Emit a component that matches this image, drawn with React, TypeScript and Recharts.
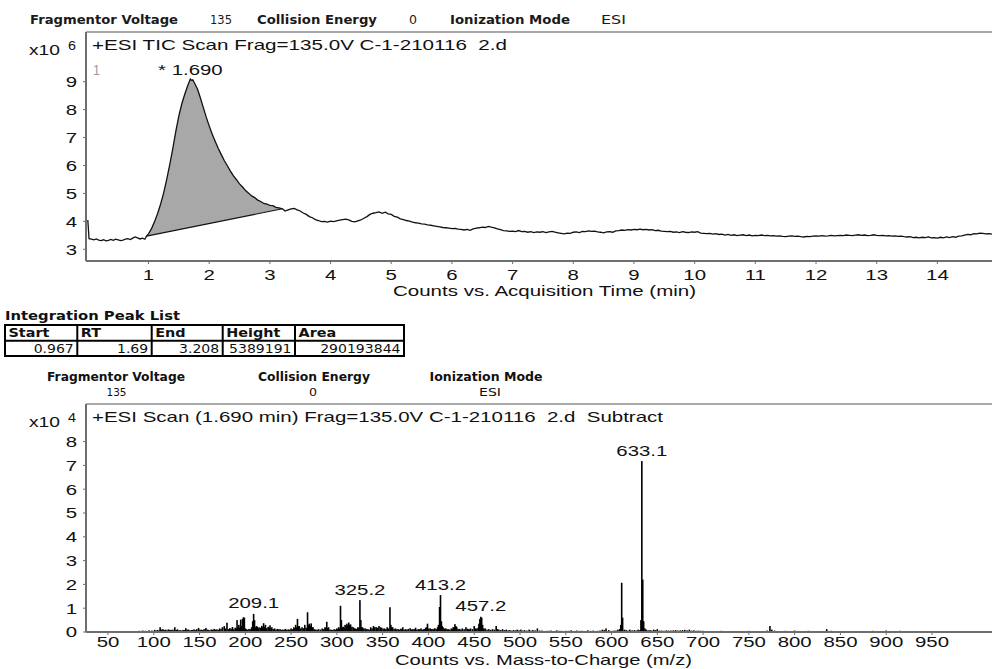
import React from 'react';
import { ComposedChart, Line, Area, Bar, Scatter, XAxis, YAxis, ReferenceLine } from 'recharts';

const ARIAL = '"Liberation Sans", Arial, sans-serif';
const VERD = '"DejaVu Sans", Verdana, sans-serif';
const SX = 1.36;
const INK = '#111';
const AXIS = '#6e6e6e';
const BORDER = '#8c8c8c';

// ---------- TIC chromatogram (counts x10^6 vs minutes) ----------
const ticTrace: [number, number][] = [
  [0, 4.05], [0.02, 3.38], [0.06, 3.36], [0.1, 3.34], [0.14, 3.37], [0.18, 3.33], [0.22, 3.31], [0.26, 3.34],
  [0.3, 3.3], [0.34, 3.32], [0.38, 3.35], [0.42, 3.32], [0.46, 3.36], [0.5, 3.34], [0.54, 3.31], [0.58, 3.33],
  [0.62, 3.36], [0.66, 3.38], [0.7, 3.35], [0.74, 3.4], [0.78, 3.44], [0.82, 3.41], [0.86, 3.37], [0.9, 3.4],
  [0.94, 3.36], [0.967, 3.47], [1.0, 3.55], [1.05, 3.74], [1.1, 3.99], [1.15, 4.28], [1.2, 4.62], [1.25, 5.02],
  [1.3, 5.5], [1.35, 6.03], [1.4, 6.6], [1.45, 7.22], [1.5, 7.78], [1.55, 8.22], [1.6, 8.57], [1.65, 8.88],
  [1.69, 9.1], [1.71, 9.05], [1.73, 9.07], [1.77, 8.9], [1.81, 8.72], [1.85, 8.45], [1.9, 8.1], [1.95, 7.74],
  [2.0, 7.42], [2.05, 7.12], [2.1, 6.86], [2.15, 6.61], [2.2, 6.39], [2.25, 6.17], [2.3, 5.99], [2.35, 5.8],
  [2.4, 5.63], [2.45, 5.49], [2.5, 5.34], [2.55, 5.23], [2.6, 5.1], [2.65, 5.01], [2.7, 4.91], [2.75, 4.85],
  [2.8, 4.76], [2.85, 4.71], [2.9, 4.64], [2.95, 4.62], [3.0, 4.57], [3.05, 4.56], [3.1, 4.5], [3.15, 4.48],
  [3.208, 4.45], [3.25, 4.37], [3.3, 4.41], [3.35, 4.45], [3.4, 4.46], [3.45, 4.41], [3.5, 4.37], [3.55, 4.3],
  [3.6, 4.25], [3.65, 4.17], [3.7, 4.13], [3.75, 4.06], [3.8, 4.03], [3.85, 3.99], [3.9, 4.0], [3.95, 3.97],
  [4.0, 4.01], [4.05, 3.99], [4.1, 4.02], [4.15, 4.04], [4.2, 4.06], [4.25, 4.08], [4.3, 4.05], [4.35, 4.0],
  [4.4, 3.98], [4.45, 4.02], [4.5, 4.05], [4.55, 4.11], [4.6, 4.17], [4.65, 4.25], [4.7, 4.29], [4.75, 4.31],
  [4.8, 4.34], [4.85, 4.29], [4.9, 4.33], [4.95, 4.27], [5.0, 4.25], [5.05, 4.18], [5.1, 4.15], [5.15, 4.09],
  [5.2, 4.06], [5.25, 4.03], [5.3, 4.01], [5.35, 3.97], [5.4, 3.95], [5.45, 3.94], [5.5, 3.91], [5.55, 3.9],
  [5.6, 3.87], [5.65, 3.86], [5.7, 3.84], [5.75, 3.82], [5.8, 3.8], [5.85, 3.78], [5.9, 3.77], [5.95, 3.76],
  [6.0, 3.74], [6.05, 3.75], [6.1, 3.72], [6.15, 3.71], [6.2, 3.69], [6.25, 3.71], [6.3, 3.68], [6.35, 3.73],
  [6.4, 3.76], [6.45, 3.77], [6.5, 3.79], [6.55, 3.78], [6.6, 3.82], [6.65, 3.79], [6.7, 3.77], [6.75, 3.73],
  [6.8, 3.7], [6.85, 3.67], [6.9, 3.66], [6.95, 3.64], [7.0, 3.65], [7.05, 3.63], [7.1, 3.67], [7.15, 3.63],
  [7.2, 3.64], [7.25, 3.61], [7.3, 3.63], [7.35, 3.6], [7.4, 3.62], [7.45, 3.61], [7.5, 3.63], [7.55, 3.6],
  [7.6, 3.62], [7.65, 3.64], [7.7, 3.61], [7.75, 3.59], [7.8, 3.57], [7.85, 3.55], [7.9, 3.58], [7.95, 3.57],
  [8.0, 3.61], [8.05, 3.62], [8.1, 3.6], [8.15, 3.64], [8.2, 3.63], [8.25, 3.66], [8.3, 3.64], [8.35, 3.65],
  [8.4, 3.62], [8.45, 3.61], [8.5, 3.59], [8.55, 3.62], [8.6, 3.63], [8.65, 3.61], [8.7, 3.66], [8.75, 3.67],
  [8.8, 3.69], [8.85, 3.68], [8.9, 3.7], [8.95, 3.69], [9.0, 3.71], [9.05, 3.7], [9.1, 3.72], [9.15, 3.7],
  [9.2, 3.71], [9.25, 3.69], [9.3, 3.7], [9.35, 3.67], [9.4, 3.68], [9.45, 3.65], [9.5, 3.64], [9.55, 3.63],
  [9.6, 3.64], [9.65, 3.61], [9.7, 3.62], [9.75, 3.6], [9.8, 3.63], [9.85, 3.61], [9.9, 3.6], [9.95, 3.62],
  [10.0, 3.61], [10.05, 3.63], [10.1, 3.58], [10.15, 3.57], [10.2, 3.56], [10.25, 3.57], [10.3, 3.54], [10.35, 3.56],
  [10.4, 3.53], [10.45, 3.54], [10.5, 3.51], [10.55, 3.53], [10.6, 3.5], [10.65, 3.52], [10.7, 3.49], [10.75, 3.51],
  [10.8, 3.52], [10.85, 3.49], [10.9, 3.51], [10.95, 3.48], [11.0, 3.5], [11.05, 3.49], [11.1, 3.51], [11.15, 3.49],
  [11.2, 3.5], [11.25, 3.48], [11.3, 3.49], [11.35, 3.47], [11.4, 3.48], [11.45, 3.46], [11.5, 3.45], [11.55, 3.47],
  [11.6, 3.48], [11.65, 3.46], [11.7, 3.47], [11.75, 3.45], [11.8, 3.44], [11.85, 3.46], [11.9, 3.45], [11.95, 3.47],
  [12.0, 3.48], [12.05, 3.47], [12.1, 3.49], [12.15, 3.47], [12.2, 3.48], [12.25, 3.5], [12.3, 3.48], [12.35, 3.49],
  [12.4, 3.5], [12.45, 3.49], [12.5, 3.51], [12.55, 3.5], [12.6, 3.49], [12.65, 3.51], [12.7, 3.52], [12.75, 3.5],
  [12.8, 3.51], [12.85, 3.49], [12.9, 3.5], [12.95, 3.52], [13.0, 3.5], [13.05, 3.49], [13.1, 3.5], [13.15, 3.48],
  [13.2, 3.49], [13.25, 3.47], [13.3, 3.48], [13.35, 3.46], [13.4, 3.47], [13.45, 3.45], [13.5, 3.44], [13.55, 3.45],
  [13.6, 3.42], [13.65, 3.43], [13.7, 3.41], [13.75, 3.43], [13.8, 3.42], [13.85, 3.44], [13.9, 3.41], [13.95, 3.42],
  [14.0, 3.4], [14.05, 3.43], [14.1, 3.41], [14.15, 3.44], [14.2, 3.42], [14.25, 3.45], [14.3, 3.43], [14.35, 3.47],
  [14.4, 3.48], [14.45, 3.51], [14.5, 3.53], [14.55, 3.52], [14.6, 3.56], [14.65, 3.55], [14.7, 3.58], [14.75, 3.57],
  [14.8, 3.55], [14.85, 3.56], [14.9, 3.54],
];
const timeTicks = [1, 2, 3, 4, 5, 6, 7, 8, 9, 10, 11, 12, 13, 14];
const countTicks = [3, 4, 5, 6, 7, 8, 9];
const peakStartTime = 0.967;
const peakApexTime = 1.69;
const peakEndTime = 3.208;

// ---------- Mass spectrum (counts x10^4 vs m/z) ----------
const spectrumPeaks: [number, number][] = [
  [60, 0.02], [65, 0.02], [70, 0.03], [75, 0.02], [80, 0.04], [84, 0.05], [88, 0.06], [91, 0.05], [95, 0.07],
  [98, 0.06], [101, 0.09], [104, 0.08], [107, 0.2], [110, 0.12], [113, 0.1], [116, 0.11], [119, 0.09], [123, 0.2],
  [126, 0.11], [129, 0.08], [132, 0.09], [135, 0.16], [138, 0.1], [141, 0.08], [144, 0.11], [147, 0.12], [149, 0.17],
  [152, 0.1], [155, 0.12], [157, 0.17], [160, 0.09], [163, 0.11], [166, 0.13], [169, 0.11], [172, 0.15], [175, 0.2],
  [177, 0.25], [180, 0.39], [183, 0.16], [186, 0.21], [189, 0.18], [191, 0.5], [193, 0.3], [195, 0.52], [197, 0.55],
  [198, 0.62], [199, 0.6], [201, 0.12], [204, 0.13], [207, 0.2], [208.1, 0.45], [209.1, 0.76], [210.1, 0.5],
  [213, 0.22], [215, 0.2], [218, 0.26], [220, 0.37], [222, 0.3], [225, 0.22], [227, 0.28], [229, 0.2], [232, 0.15],
  [235, 0.13], [238, 0.12], [241, 0.1], [244, 0.13], [247, 0.11], [250, 0.15], [253, 0.2], [255, 0.3], [257, 0.55],
  [259, 0.25], [262, 0.2], [265, 0.3], [268, 0.83], [270, 0.35], [272, 0.36], [274, 0.2], [277, 0.1], [280, 0.12],
  [284, 0.15], [287, 0.2], [289, 0.43], [291, 0.2], [294, 0.1], [297, 0.12], [300, 0.15], [302, 0.2], [304, 1.1],
  [305, 0.5], [307, 0.22], [309, 0.3], [311, 0.35], [313, 0.4], [315, 0.32], [318, 0.2], [320, 0.15], [323, 0.2],
  [325.2, 1.34], [326.2, 0.5], [328, 0.2], [331, 0.15], [334, 0.12], [337, 0.2], [340, 0.25], [343, 0.2], [346, 0.25],
  [349, 0.18], [352, 0.15], [355, 0.2], [358, 1.04], [359, 0.3], [361, 0.2], [364, 0.15], [367, 0.12], [370, 0.14],
  [372, 0.2], [375, 0.12], [378, 0.13], [380, 0.16], [383, 0.12], [386, 0.18], [389, 0.12], [392, 0.15], [395, 0.12],
  [397, 0.18], [399, 0.35], [402, 0.15], [405, 0.13], [407, 0.16], [410, 0.2], [412.2, 1.05], [413.2, 1.55],
  [414.2, 0.45], [416, 0.2], [419, 0.15], [422, 0.12], [425, 0.15], [427, 0.2], [429, 0.33], [431, 0.2], [434, 0.13],
  [437, 0.15], [441, 0.2], [444, 0.12], [446, 0.15], [450, 0.25], [453, 0.15], [456.2, 0.55], [457.2, 0.64],
  [458.2, 0.6], [459.2, 0.3], [462, 0.15], [466, 0.12], [470, 0.12], [474, 0.25], [477, 0.1], [481, 0.12], [485, 0.1],
  [489, 0.08], [493, 0.08], [497, 0.1], [501, 0.1], [505, 0.08], [510, 0.1], [514, 0.08], [519, 0.15], [524, 0.06],
  [529, 0.05], [534, 0.06], [540, 0.07], [545, 0.05], [550, 0.05], [556, 0.07], [562, 0.06], [568, 0.05], [574, 0.07],
  [580, 0.06], [585, 0.05], [590, 0.1], [594, 0.15], [597, 0.08], [603, 0.06], [607, 0.1], [610.1, 0.3], [611.1, 2.07],
  [612.1, 0.6], [616, 0.08], [620, 0.1], [625, 0.08], [629, 0.1], [633.1, 7.18], [634.1, 2.2], [635.1, 0.45],
  [638, 0.1], [642, 0.08], [646, 0.1], [650, 0.12], [655, 0.06], [660, 0.07], [665, 0.06], [670, 0.08], [675, 0.07],
  [680, 0.09], [685, 0.1], [690, 0.07], [695, 0.06], [700, 0.05], [710, 0.04], [720, 0.05], [730, 0.04], [740, 0.04],
  [750, 0.05], [760, 0.04], [773, 0.25], [778, 0.06], [790, 0.05], [800, 0.06], [815, 0.05], [825, 0.04], [835, 0.12],
  [850, 0.04], [870, 0.04], [885, 0.05], [900, 0.06], [915, 0.05], [930, 0.04], [950, 0.04], [970, 0.04], [990, 0.03],
];
// low-level chemical noise between the listed peaks
const spectrumNoise: [number, number][] = [
  [102.5, 0.06], [105.5, 0.07], [108.5, 0.1], [111.5, 0.08], [114.5, 0.07], [117.5, 0.09], [121, 0.1], [124.5, 0.09],
  [127.5, 0.07], [130.5, 0.06], [133.5, 0.08], [136.5, 0.1], [139.5, 0.07], [142.5, 0.09], [145.5, 0.08], [150.5, 0.09],
  [153.5, 0.08], [158.5, 0.1], [161.5, 0.07], [164.5, 0.09], [167.5, 0.1], [170.5, 0.09], [173.5, 0.12], [178.5, 0.15],
  [181.5, 0.12], [184.5, 0.14], [187.5, 0.12], [190, 0.15], [192, 0.2], [194, 0.18], [196, 0.25], [200, 0.15],
  [202.5, 0.1], [205.5, 0.12], [211.5, 0.2], [212.2, 0.25], [214, 0.15], [216.5, 0.18], [219, 0.2], [221, 0.22],
  [223.5, 0.16], [226, 0.18], [228, 0.15], [230.5, 0.12], [233.5, 0.1], [236.5, 0.11], [239.5, 0.09], [242.5, 0.1],
  [245.5, 0.09], [248.5, 0.1], [251.5, 0.12], [254, 0.15], [256, 0.2], [258, 0.25], [260.5, 0.15], [263.5, 0.16],
  [266.5, 0.18], [269, 0.3], [271, 0.25], [273, 0.2], [275.5, 0.12], [278.5, 0.09], [282, 0.1], [285.5, 0.12],
  [288, 0.18], [290, 0.16], [292.5, 0.1], [295.5, 0.08], [298.5, 0.1], [301, 0.12], [303, 0.15], [306, 0.2],
  [308, 0.18], [310, 0.25], [312, 0.28], [314, 0.3], [316.5, 0.22], [319, 0.15], [321.5, 0.13], [324, 0.18],
  [327, 0.2], [329.5, 0.15], [332.5, 0.12], [335.5, 0.1], [338.5, 0.15], [341.5, 0.2], [344.5, 0.18], [347.5, 0.2],
  [350.5, 0.14], [353.5, 0.12], [356.5, 0.15], [360, 0.2], [362.5, 0.12], [365.5, 0.11], [368.5, 0.1], [371, 0.12],
  [373.5, 0.1], [376.5, 0.1], [381.5, 0.11], [384.5, 0.12], [387.5, 0.1], [390.5, 0.12], [393.5, 0.1], [396, 0.12],
  [398, 0.2], [400.5, 0.15], [403.5, 0.12], [406, 0.1], [408.5, 0.12], [411, 0.3], [415, 0.25], [417.5, 0.15],
  [420.5, 0.12], [423.5, 0.1], [426, 0.12], [428, 0.2], [430, 0.25], [432.5, 0.12], [435.5, 0.1], [439, 0.12],
  [442.5, 0.14], [445, 0.1], [448, 0.12], [451.5, 0.15], [454.5, 0.18], [455.2, 0.35], [460.5, 0.15], [464, 0.1],
  [468, 0.09], [472, 0.1], [475.5, 0.12], [479, 0.08], [483, 0.08], [487, 0.07], [491, 0.06], [495, 0.07],
  [499, 0.07], [503, 0.06], [507.5, 0.06], [512, 0.06], [516.5, 0.07], [521.5, 0.06], [526.5, 0.04], [531.5, 0.05],
  [537, 0.04], [542.5, 0.05], [547.5, 0.04], [553, 0.05], [559, 0.04], [565, 0.05], [571, 0.04], [577, 0.05],
  [582.5, 0.04], [587.5, 0.06], [592, 0.08], [600, 0.05], [605, 0.06], [609, 0.12], [614, 0.1], [618, 0.06],
  [622.5, 0.07], [627, 0.06], [631, 0.08], [632.1, 0.5], [636.5, 0.15], [640, 0.07], [644, 0.06], [648, 0.08],
  [652.5, 0.06], [657.5, 0.05], [662.5, 0.06], [667.5, 0.07], [672.5, 0.06], [677.5, 0.08], [682.5, 0.07], [687.5, 0.06],
  [692.5, 0.05], [697.5, 0.05], [705, 0.04], [715, 0.04], [725, 0.03], [735, 0.04], [745, 0.04], [755, 0.03],
  [765, 0.04], [770, 0.06], [775, 0.1], [783, 0.04], [795, 0.04], [807, 0.04], [820, 0.03], [830, 0.04],
  [840, 0.05], [860, 0.03], [878, 0.03], [893, 0.04], [908, 0.04], [922, 0.03], [940, 0.03], [960, 0.03],
  [980, 0.03], [1000, 0.03],
];
const mzTicks = [50, 100, 150, 200, 250, 300, 350, 400, 450, 500, 550, 600, 650, 700, 750, 800, 850, 900, 950];
const intensityTicks = [0, 1, 2, 3, 4, 5, 6, 7, 8];
const labelledMz = [209.1, 325.2, 413.2, 457.2, 633.1];

// ---------- Integration peak list ----------
const tableHeaders = ['Start', 'RT', 'End', 'Height', 'Area'];
const tableValues = ['0.967', '1.69', '3.208', '5389191', '290193844'];

// derived data for the library
const ticData = ticTrace.map(([t, v]) => ({ t, v }));
const baseStart = ticTrace.find(([t]) => t === peakStartTime)![1];
const baseEnd = ticTrace.find(([t]) => t === peakEndTime)![1];
const baseAt = (t: number) => baseStart + ((baseEnd - baseStart) * (t - peakStartTime)) / (peakEndTime - peakStartTime);
const bandData = ticTrace
  .filter(([t]) => t >= peakStartTime && t <= peakEndTime)
  .map(([t, v]) => ({ t, band: [baseAt(t), v] }));
const apex = ticTrace.find(([t]) => t === peakApexTime)!;
const ticLabelData = [{ t: apex[0], v: apex[1], label: '* ' + peakApexTime.toFixed(3) }];
const specData = [...spectrumPeaks, ...spectrumNoise].sort((a, b) => a[0] - b[0]).map(([mz, i]) => ({ mz, i }));
const specLabelData = labelledMz.map((mz) => ({ mz, i: spectrumPeaks.find((p) => p[0] === mz)![1], label: mz.toFixed(1) }));

const makeXTick = (dy: number) => (p: any) => (
  <text transform={`translate(${p.x},${p.y + dy}) scale(${SX},1)`} textAnchor="middle" fontFamily={ARIAL} fontSize={15} fill={INK}>
    {p.payload.value}
  </text>
);
const YTick = (p: any) => (
  <text transform={`translate(${p.x},${p.y + 5.4}) scale(${SX},1)`} textAnchor="end" fontFamily={ARIAL} fontSize={15} fill={INK}>
    {p.payload.value}
  </text>
);
const makePeakLabel = (gap: number) => (p: any) => (
  <text transform={`translate(${p.cx},${p.cy - gap + 5.4}) scale(${SX},1)`} textAnchor="middle" fontFamily={ARIAL} fontSize={15} fill={INK}>
    {p.payload.label}
  </text>
);
const Stick = (p: any) => {
  if (!p.height || p.height <= 0) return <g />;
  const c = p.x + p.width / 2;
  return <rect x={c - 0.8} y={p.y} width={1.6} height={p.height} fill="#000" />;
};

type TP = {
  x: number; y: number; w?: number; size?: number; bold?: boolean; family?: string;
  anchor?: 'start' | 'middle' | 'end'; fill?: string; sx?: number; children: React.ReactNode;
};
const Txt = ({ x, y, w, size = 15, bold, family = ARIAL, anchor = 'start', fill = INK, sx = SX, children }: TP) => {
  const base = y + size * (family === ARIAL ? 0.358 : 0.365);
  const common = { fontSize: size, fontWeight: bold ? 700 : 400, fontFamily: family, fill, style: { whiteSpace: 'pre' as const } };
  if (w) {
    const x0 = anchor === 'middle' ? x - w / 2 : anchor === 'end' ? x - w : x;
    return (
      <text x={x0} y={base} textLength={w} lengthAdjust="spacingAndGlyphs" {...common}>
        {children}
      </text>
    );
  }
  return (
    <text transform={`translate(${x},${base}) scale(${sx},1)`} textAnchor={anchor} {...common}>
      {children}
    </text>
  );
};

const colX = [5, 77.3, 151.7, 222.7, 295, 404];
const rowY = [325, 340.7, 356];

export default function App() {
  const axisLine = { stroke: AXIS, strokeWidth: 2 };
  return (
    <div style={{ position: 'absolute', left: 0, top: 0, width: 992, height: 669, overflow: 'hidden', background: '#fff' }}>
      <div style={{ position: 'absolute', left: 0, top: 0 }}>
        <ComposedChart width={1000} height={300} margin={{ top: 32, right: 8, bottom: 0, left: 0 }}>
          <XAxis type="number" dataKey="t" domain={[-0.03, 14.9]} allowDataOverflow ticks={timeTicks} interval={0}
            height={39} axisLine={axisLine} tickLine={{ stroke: AXIS }} tickSize={3} tickMargin={3} tick={makeXTick(13.4)} />
          <YAxis type="number" domain={[2.58, 10.78]} allowDataOverflow ticks={countTicks} interval={0} width={86}
            axisLine={axisLine} tickLine={{ stroke: AXIS }} tickSize={3} tickMargin={6} tick={<YTick />} />
          <ReferenceLine y={10.78} stroke={BORDER} strokeWidth={1.5} ifOverflow="visible" />
          <Area data={bandData} dataKey="band" type="linear" stroke="none" fill="#a8a8a8" fillOpacity={1} isAnimationActive={false} />
          <Line data={ticData} dataKey="v" type="linear" stroke="#111" strokeWidth={1.3} dot={false} isAnimationActive={false} />
          <ReferenceLine segment={[{ x: peakStartTime, y: baseStart }, { x: peakEndTime, y: baseEnd }]} stroke="#111" strokeWidth={1.1} />
          <Scatter data={ticLabelData} dataKey="v" shape={makePeakLabel(9)} isAnimationActive={false} />
        </ComposedChart>
      </div>

      <div style={{ position: 'absolute', left: 0, top: 372 }}>
        <ComposedChart width={1000} height={300} data={specData} margin={{ top: 32, right: 8, bottom: 0, left: 0 }}>
          <XAxis type="number" dataKey="mz" domain={[26, 1015.5]} allowDataOverflow ticks={mzTicks} interval={0}
            height={40} axisLine={axisLine} tickLine={{ stroke: AXIS }} tickSize={3} tickMargin={2} tick={makeXTick(10.4)} />
          <YAxis type="number" domain={[0, 9.58]} allowDataOverflow ticks={intensityTicks} interval={0} width={86}
            axisLine={axisLine} tickLine={{ stroke: AXIS }} tickSize={3} tickMargin={6} tick={<YTick />} />
          <ReferenceLine y={9.58} stroke={BORDER} strokeWidth={1.5} ifOverflow="visible" />
          <Bar dataKey="i" barSize={2} shape={<Stick />} isAnimationActive={false} />
          <Scatter data={specLabelData} dataKey="i" shape={makePeakLabel(11)} isAnimationActive={false} />
        </ComposedChart>
      </div>

      <svg width={992} height={669} style={{ position: 'absolute', left: 0, top: 0, pointerEvents: 'none' }}>
        {/* top header */}
        <Txt x={30} y={20} w={148} size={11.5} bold family={VERD} fill="#1a1a1a">Fragmentor Voltage</Txt>
        <Txt x={210} y={20} w={22} size={11.5} family={VERD} fill="#1a1a1a">135</Txt>
        <Txt x={257} y={20} w={120} size={11.5} bold family={VERD} fill="#1a1a1a">Collision Energy</Txt>
        <Txt x={413} y={20} w={8} size={11.5} anchor="middle" family={VERD} fill="#1a1a1a">0</Txt>
        <Txt x={450} y={20} w={120} size={11.5} bold family={VERD} fill="#1a1a1a">Ionization Mode</Txt>
        <Txt x={601} y={20} w={25} size={11.5} family={VERD} fill="#1a1a1a">ESI</Txt>

        {/* top chart texts */}
        <Txt x={29} y={50} w={31}>x10</Txt>
        <Txt x={68} y={45.5} w={8} size={12}>6</Txt>
        <Txt x={92} y={45} w={415}>+ESI TIC Scan Frag=135.0V C-1-210116  2.d</Txt>
        <Txt x={93} y={70} w={7} fill="#9a9a9a">1</Txt>
        <Txt x={393} y={291} w={303}>Counts vs. Acquisition Time (min)</Txt>

        {/* peak list */}
        <Txt x={5} y={315} w={175} size={13} bold family={VERD}>Integration Peak List</Txt>
        <rect x={colX[0]} y={rowY[0]} width={colX[5] - colX[0]} height={rowY[2] - rowY[0]} fill="none" stroke="#000" strokeWidth={2} />
        <line x1={colX[0]} x2={colX[5]} y1={rowY[1]} y2={rowY[1]} stroke="#000" strokeWidth={2} />
        {colX.slice(1, 5).map((cx) => (
          <line key={cx} x1={cx} x2={cx} y1={rowY[0]} y2={rowY[2]} stroke="#000" strokeWidth={2} />
        ))}
        {tableHeaders.map((h, i) => (
          <Txt key={h} x={colX[i] + 3.5} y={332.8} size={12} bold family={VERD} sx={1.2}>{h}</Txt>
        ))}
        {tableValues.map((v, i) => (
          <Txt key={v} x={colX[i + 1] - 3.5} y={348.3} size={12} family={VERD} sx={1.17} anchor="end">{v}</Txt>
        ))}

        {/* second header */}
        <Txt x={116} y={377} w={138} size={11.5} bold family={VERD} anchor="middle">Fragmentor Voltage</Txt>
        <Txt x={116.5} y={392} w={20} size={10.5} family={VERD} anchor="middle">135</Txt>
        <Txt x={314} y={377} w={112} size={11.5} bold family={VERD} anchor="middle">Collision Energy</Txt>
        <Txt x={313} y={392} w={8} size={10.5} family={VERD} anchor="middle">0</Txt>
        <Txt x={486} y={377} w={113} size={11.5} bold family={VERD} anchor="middle">Ionization Mode</Txt>
        <Txt x={490} y={392} w={22} size={10.5} family={VERD} anchor="middle">ESI</Txt>

        {/* bottom chart texts */}
        <Txt x={29} y={422} w={31}>x10</Txt>
        <Txt x={68} y={418} w={8} size={12}>4</Txt>
        <Txt x={92} y={417} w={571}>+ESI Scan (1.690 min) Frag=135.0V C-1-210116  2.d  Subtract</Txt>
        <Txt x={395} y={660} w={297}>Counts vs. Mass-to-Charge (m/z)</Txt>
      </svg>
    </div>
  );
}
